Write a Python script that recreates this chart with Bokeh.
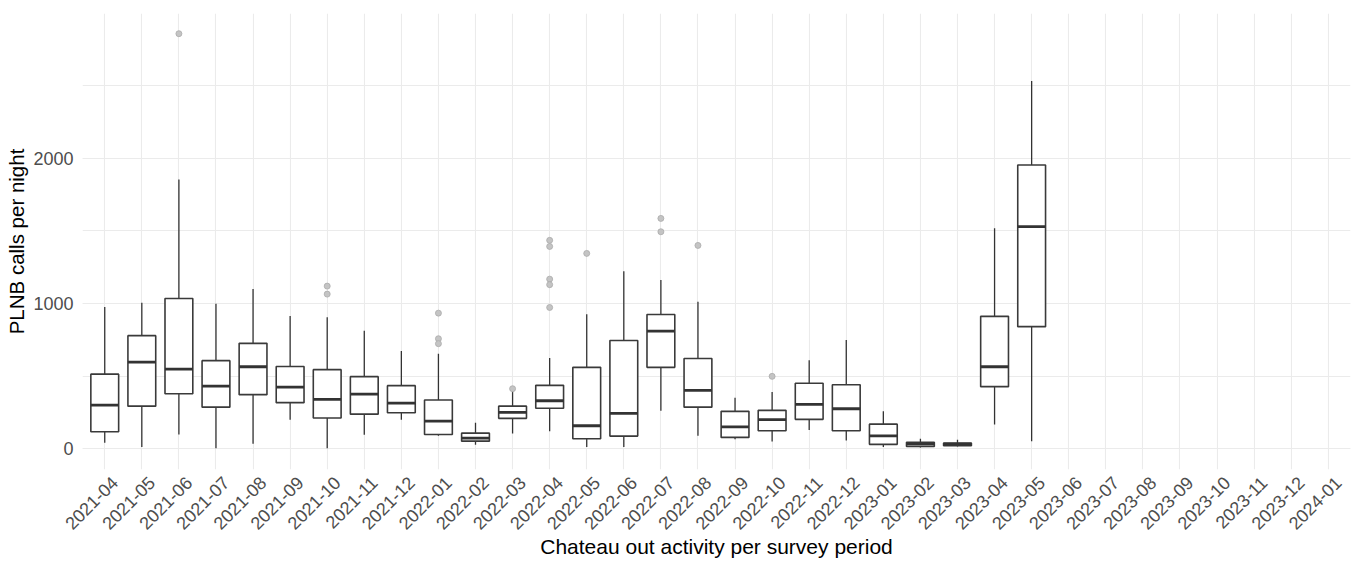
from bokeh.plotting import figure
from bokeh.models import (Range1d, SingleIntervalTicker, ColumnDataSource,
                          LinearAxis, FixedTicker)
from bokeh.transform import dodge
from bokeh.embed import file_html
from bokeh.resources import INLINE
import math

# ---- data ----
periods = ["2021-04", "2021-05", "2021-06", "2021-07", "2021-08", "2021-09", "2021-10",
           "2021-11", "2021-12", "2022-01", "2022-02", "2022-03", "2022-04", "2022-05",
           "2022-06", "2022-07", "2022-08", "2022-09", "2022-10", "2022-11", "2022-12",
           "2023-01", "2023-02", "2023-03", "2023-04", "2023-05", "2023-06", "2023-07",
           "2023-08", "2023-09", "2023-10", "2023-11", "2023-12", "2024-01"]

box_periods = periods[:26]
lower = [41, 11, 98, 4, 34, 200, 4, 96, 200, 89, 28, 105, 121, 11, 11, 261, 89, 66, 50, 128, 57, 11, 8, 15, 167, 52]
q1 = [117, 293, 378, 286, 372, 317, 211, 238, 248, 98, 52, 209, 279, 69, 87, 560, 286, 78, 124, 202, 124, 30, 16, 21, 427, 840]
median = [300, 596, 548, 431, 564, 424, 339, 376, 314, 190, 73, 250, 330, 158, 243, 809, 401, 151, 200, 305, 275, 89, 34, 32, 564, 1528]
q3 = [513, 778, 1034, 606, 725, 566, 544, 496, 434, 335, 107, 293, 436, 560, 745, 924, 621, 257, 264, 451, 440, 169, 45, 39, 911, 1952]
upper = [975, 1005, 1853, 998, 1099, 913, 904, 812, 672, 654, 179, 396, 624, 926, 1222, 1161, 1012, 351, 390, 608, 748, 257, 69, 62, 1518, 2530]

outlier_periods = ["2021-06", "2021-10", "2021-10", "2022-01", "2022-01", "2022-01", "2022-03",
                   "2022-04", "2022-04", "2022-04", "2022-04", "2022-04", "2022-05", "2022-07",
                   "2022-07", "2022-08", "2022-10"]
outlier_values = [2856, 1119, 1064, 933, 757, 723, 413, 1434, 1392, 1167, 1129, 972, 1344, 1585,
                  1493, 1399, 498]

y_title = "PLNB calls per night"
x_title = "Chateau out activity per survey period"

# ---- positions of categories on a discrete scale (0..n-1) ----
pos = {s: i for i, s in enumerate(periods)}
ticks = list(range(len(periods)))

# ---- plot ----
FONT = "Liberation Sans"
EXP = 0.6  # ggplot discrete expansion
p = figure(width=1351, height=563, output_backend="svg", toolbar_location=None,
           x_range=Range1d(-EXP, len(periods) - 1 + EXP),
           y_range=Range1d(-143, 2995),
           min_border_left=82, min_border_right=1, min_border_top=13, min_border_bottom=94)
p.outline_line_color = None
p.background_fill_color = "white"
p.border_fill_color = "white"

box = ColumnDataSource(dict(x=[pos[s] for s in box_periods], lower=lower, q1=q1,
                            median=median, q3=q3, upper=upper))
out = ColumnDataSource(dict(x=[pos[s] for s in outlier_periods], y=outlier_values))

LC = "#333333"
p.segment(x0="x", x1="x", y0="lower", y1="q1", source=box, line_color=LC, line_width=1.3)
p.segment(x0="x", x1="x", y0="q3", y1="upper", source=box, line_color=LC, line_width=1.3)
p.vbar(x="x", width=0.75, bottom="q1", top="q3", source=box, fill_color="white",
       line_color="#3a3a3a", line_width=1.6)
p.segment(x0=dodge("x", -0.375), x1=dodge("x", 0.375),
          y0="median", y1="median", source=box, line_color=LC, line_width=2.8)
p.scatter(x="x", y="y", source=out, size=6, fill_color="#c4c4c4", line_color="#ababab",
          line_width=0.8)

# grids
p.xaxis.ticker = FixedTicker(ticks=ticks)
p.xgrid.ticker = FixedTicker(ticks=ticks)
p.xgrid.grid_line_color = "#ebebeb"
p.xgrid.grid_line_width = 1.1
p.ygrid.grid_line_color = "#ebebeb"
p.ygrid.grid_line_width = 1.1
p.ygrid.minor_grid_line_color = "#ebebeb"
p.ygrid.minor_grid_line_width = 1.0
p.yaxis.ticker = SingleIntervalTicker(interval=1000, num_minor_ticks=2)

# x tick labels on a helper axis, nudged ~10 px right like ggplot's hjust=1 labels
SHIFT = 0.27
p.extra_x_ranges = {"lab": Range1d(-EXP - SHIFT, len(periods) - 1 + EXP - SHIFT)}
lab_axis = LinearAxis(x_range_name="lab", ticker=FixedTicker(ticks=ticks),
                      major_label_overrides={i: s for i, s in enumerate(periods)})
p.add_layout(lab_axis, "below")
p.xaxis[0].visible = False

for ax in (lab_axis, p.yaxis[0]):
    ax.axis_line_color = None
    ax.major_tick_line_color = None
    ax.minor_tick_line_color = None
    ax.major_tick_out = 0
    ax.major_tick_in = 0
    ax.minor_tick_out = 0
    ax.minor_tick_in = 0
    ax.major_label_text_font = FONT
    ax.major_label_text_font_size = "18px"
    ax.major_label_text_color = "#4d4d4d"
    ax.axis_label_text_font = FONT
    ax.axis_label_text_font_size = "20.5px"
    ax.axis_label_text_font_style = "normal"
    ax.axis_label_text_color = "black"

p.yaxis.axis_label = y_title
p.yaxis.major_label_standoff = 9
p.yaxis.axis_label_standoff = 2
lab_axis.axis_label = x_title
lab_axis.axis_label_text_font_size = "21px"
lab_axis.major_label_orientation = math.pi / 4
lab_axis.major_label_standoff = 10
lab_axis.axis_label_standoff = -3

open("out.html", "w").write(file_html(p, INLINE))
